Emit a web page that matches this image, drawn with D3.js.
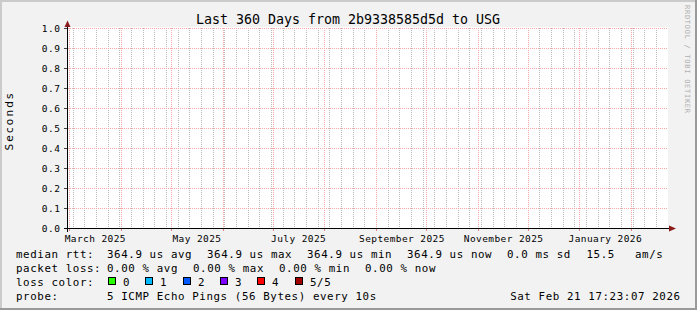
<!DOCTYPE html>
<html>
<head>
<meta charset="utf-8">
<script src="https://cdn.jsdelivr.net/npm/d3@7"></script>
<style>
  html, body { margin: 0; padding: 0; background: #f2f2f2; }
  svg { display: block; }
  text { font-family: "DejaVu Sans Mono", monospace; fill: #000; }
</style>
</head>
<body>
<svg id="chart"></svg>
<script>
// chart data
const title = "Last 360 Days from 2b9338585d5d to USG";
const yTitle = "Seconds";
const watermark = "RRDTOOL / TOBI OETIKER";
const endTime = new Date(Date.UTC(2026, 1, 21, 17, 23, 7));
const spanDays = 360;
const yTicks = [0, 0.1, 0.2, 0.3, 0.4, 0.5, 0.6, 0.7, 0.8, 0.9, 1.0];

const rttValues = ["364.9 us", "364.9 us", "364.9 us", "364.9 us"];
const statNames = ["avg", "max", "min", "now"];
const rttSd = "0.0 ms sd";
const rttAms = ["15.5", "am/s"];
const lossValues = ["0.00 %", "0.00 %", "0.00 %", "0.00 %"];
const lossLabels = ["0", "1", "2", "3", "4", "5/5"];
const lossColors = ["#26ff00", "#00b8ff", "#0059ff", "#7e00ff", "#ff0000", "#a10000"];
const probeText = "5 ICMP Echo Pings (56 Bytes) every 10s";
const stampText = "Sat Feb 21 17:23:07 2026";

const width = 697;
const height = 310;

const svg = d3.select("#chart").attr("width", width).attr("height", height);

// background + 3d frame
svg.append("rect").attr("width", width).attr("height", height).attr("fill", "#f2f2f2");
svg.append("rect").attr("x", 0).attr("y", 0).attr("width", width).attr("height", 2).attr("fill", "#cbcbcb");
svg.append("rect").attr("x", 0).attr("y", 0).attr("width", 2).attr("height", height).attr("fill", "#cbcbcb");
svg.append("rect").attr("x", 0).attr("y", height - 2).attr("width", width).attr("height", 2).attr("fill", "#9a9a9a");
svg.append("rect").attr("x", width - 2).attr("y", 0).attr("width", 2).attr("height", height).attr("fill", "#9a9a9a");

const startTime = d3.utcDay.offset(endTime, -spanDays);
const x = d3.scaleUtc().domain([startTime, endTime]).range([66.5, 666.5]);
const y = d3.scaleLinear().domain([0, 1]).range([228, 28]);
const px = (d) => Math.round(x(d)) - 0.5;
const axisX = Math.round(x.range()[0]) + 0.5;

// canvas
svg.append("rect")
  .attr("x", 67).attr("y", 27)
  .attr("width", 601).attr("height", 202)
  .attr("fill", "#fff");

const grid = svg.append("g");

// minor grid: weeks
grid.selectAll(".minor")
  .data(d3.utcMonday.range(startTime, endTime))
  .enter()
  .append("line")
  .attr("x1", px).attr("x2", px)
  .attr("y1", y(1)).attr("y2", y(0))
  .attr("stroke", "#b9b9b9")
  .attr("stroke-dasharray", "1,1");

// major grid: months
grid.selectAll(".major")
  .data(d3.utcMonth.range(startTime, endTime))
  .enter()
  .append("line")
  .attr("x1", px).attr("x2", px)
  .attr("y1", y(1)).attr("y2", y(0))
  .attr("stroke", "#f4a8a8")
  .attr("stroke-dasharray", "1,1");

// month ticks under the axis
grid.selectAll(".mtick")
  .data(d3.utcMonth.range(startTime, endTime))
  .enter()
  .append("line")
  .attr("x1", px).attr("x2", px)
  .attr("y1", y(0)).attr("y2", y(0) + 3)
  .attr("stroke", "#e08080");

// horizontal grid
grid.selectAll(".hgrid")
  .data(yTicks.slice(1))
  .enter()
  .append("line")
  .attr("x1", 68).attr("x2", 667)
  .attr("y1", (d) => y(d) + 0.5).attr("y2", (d) => y(d) + 0.5)
  .attr("stroke", "#f4a8a8")
  .attr("stroke-dasharray", "1,1");

// y ticks
svg.selectAll(".ytick")
  .data(yTicks)
  .enter()
  .append("line")
  .attr("x1", axisX - 3.5).attr("x2", axisX)
  .attr("y1", (d) => y(d) + 0.5).attr("y2", (d) => y(d) + 0.5)
  .attr("stroke", "#444");

// axes
svg.append("line")
  .attr("x1", 64).attr("x2", 670)
  .attr("y1", y(0) + 0.5).attr("y2", y(0) + 0.5)
  .attr("stroke", "#000");
svg.append("line")
  .attr("x1", axisX).attr("x2", axisX)
  .attr("y1", y(0) + 4).attr("y2", 24)
  .attr("stroke", "#000");

// arrows
svg.append("path")
  .attr("d", `M669,${y(0) - 2.5}L676,${y(0) + 0.5}L669,${y(0) + 3.5}Z`)
  .attr("fill", "#8b1a1a");
svg.append("path")
  .attr("d", `M${axisX - 3},27L${axisX},20.5L${axisX + 3},27Z`)
  .attr("fill", "#8b1a1a");

// y labels
svg.selectAll(".ylab")
  .data(yTicks)
  .enter()
  .append("text")
  .attr("x", 60.6)
  .attr("y", (d) => y(d) + 4)
  .attr("text-anchor", "end")
  .style("font-size", "9.5px")
  .style("letter-spacing", "0.6px")
  .text(d3.format(".1f"));

// x labels: every other month, centred half a month in
svg.selectAll(".xlab")
  .data(x.ticks(d3.utcMonth.every(2)))
  .enter()
  .append("text")
  .attr("x", (d) => x(d3.utcDay.offset(d, 15)))
  .attr("y", 241.5)
  .attr("text-anchor", "middle")
  .style("font-size", "9.5px")
  .style("letter-spacing", "0.4px")
  .text(d3.utcFormat("%B %Y"));

// title
svg.append("text")
  .attr("x", 348).attr("y", 24)
  .attr("text-anchor", "middle")
  .style("font-size", "13.3px")
  .text(title);

// y title
svg.append("text")
  .attr("transform", "translate(12.7,122) rotate(-90)")
  .attr("text-anchor", "middle")
  .attr("textLength", 57)
  .attr("lengthAdjust", "spacing")
  .style("font-family", "'DejaVu Sans', sans-serif")
  .style("font-size", "10.5px")
  .text(yTitle);

// watermark
svg.append("text")
  .attr("transform", "translate(685,5) rotate(90)")
  .attr("textLength", 108)
  .attr("lengthAdjust", "spacing")
  .style("font-size", "7px")
  .style("fill", "#b0b0b0")
  .text(watermark);

// legend
const legend = svg.append("g")
  .style("font-size", "10.8px")
  .style("letter-spacing", "0.6px");

const addText = (tx, ty, str, anchor) =>
  legend.append("text")
    .attr("x", tx).attr("y", ty)
    .attr("text-anchor", anchor || "start")
    .style("white-space", "pre")
    .text(str);

const rows = [257.5, 271.5, 285.5, 299.5];

addText(16, rows[0], "median rtt:");
rttValues.forEach((v, i) => addText(107 + i * 100, rows[0], `${v} ${statNames[i]}`));
addText(507, rows[0], rttSd);
addText(586.5, rows[0], rttAms[0]);
addText(635, rows[0], rttAms[1]);

addText(16, rows[1], "packet loss:");
lossValues.forEach((v, i) => addText(107 + i * 86, rows[1], `${v} ${statNames[i]}`));

addText(16, rows[2], "loss color:");
lossLabels.forEach((lab, i) => {
  const bx = 108 + i * 37.3;
  legend.append("rect")
    .attr("x", Math.round(bx) + 0.5).attr("y", 277.5)
    .attr("width", 7).attr("height", 7)
    .attr("fill", lossColors[i])
    .attr("stroke", "#000");
  addText(Math.round(bx) + 15, rows[2], lab);
});

addText(16, rows[3], "probe:");
addText(107, rows[3], probeText);
addText(680.6, rows[3], stampText, "end");
</script>
</body>
</html>
